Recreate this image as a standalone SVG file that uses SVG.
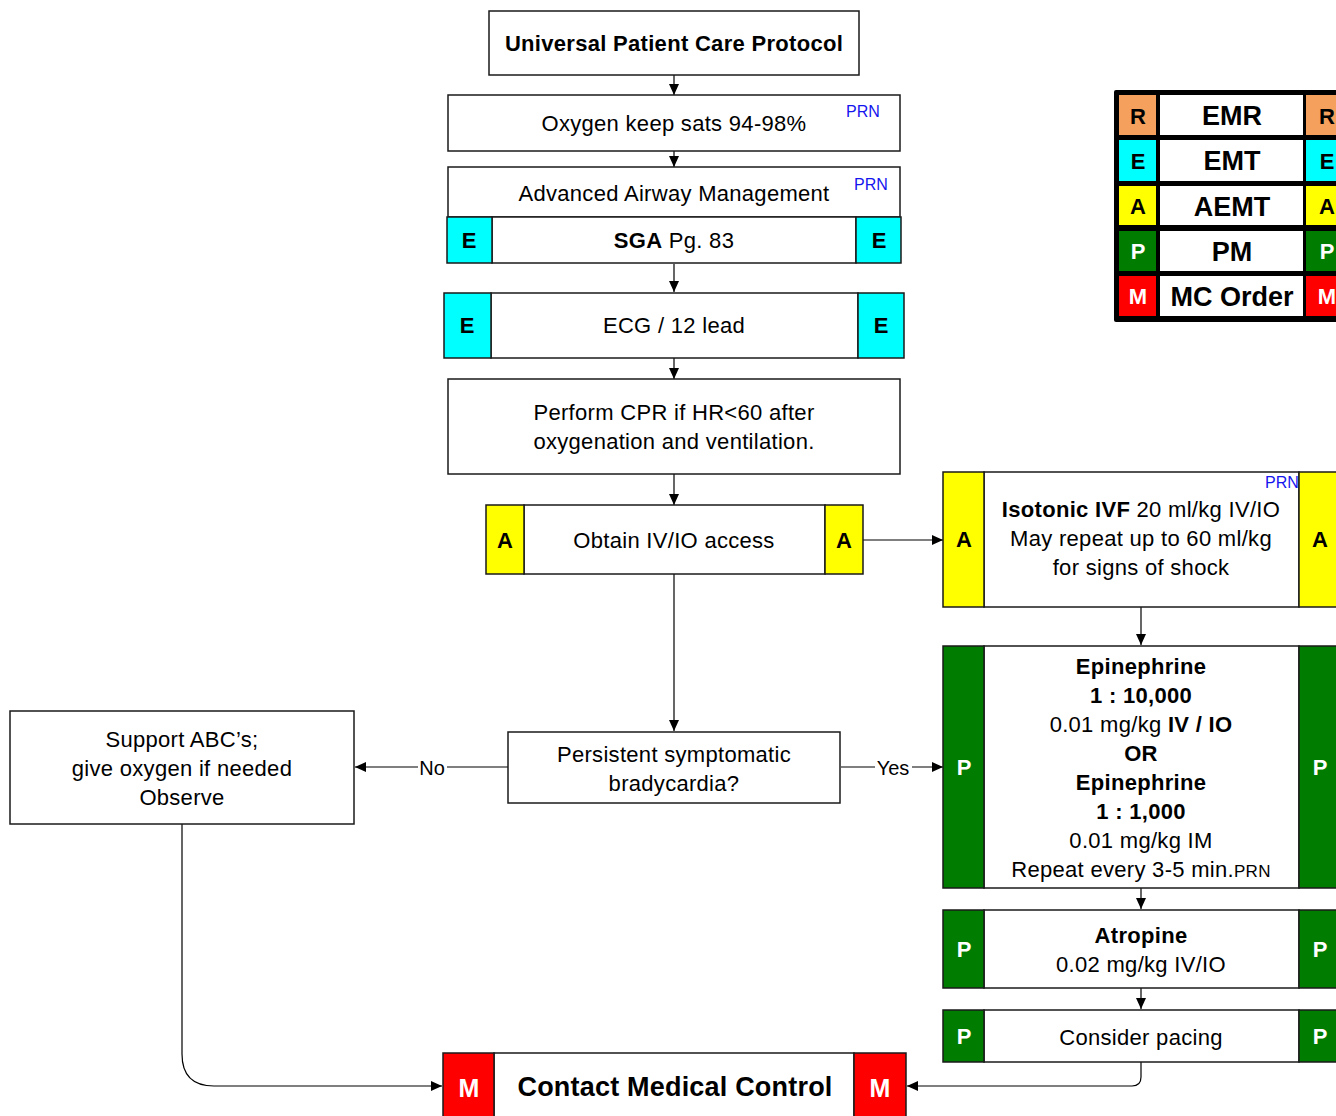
<svg xmlns="http://www.w3.org/2000/svg" width="1336" height="1116" viewBox="0 0 1336 1116">
<defs>
<marker id="arr" markerUnits="userSpaceOnUse" markerWidth="12" markerHeight="10" refX="11" refY="5" orient="auto">
<path d="M0,0 L11,5 L0,10 Z" fill="#000"/>
</marker>
<style>
text{font-family:"Liberation Sans",Arial,sans-serif;fill:#000;text-anchor:middle}
.box{fill:#fff;stroke:#1a1a1a;stroke-width:1.5}
.t{font-size:22px;letter-spacing:0.3px}
.b{font-weight:bold}
.prn{font-size:16px;fill:#1515ee;text-anchor:start}
.cE{fill:#00ffff;stroke:#1a1a1a;stroke-width:1.5}
.cA{fill:#ffff00;stroke:#1a1a1a;stroke-width:1.5}
.cP{fill:#007c00;stroke:#1a1a1a;stroke-width:1.5}
.cM{fill:#ff0000;stroke:#1a1a1a;stroke-width:1.5}
.cR{fill:#f5a05c}
.lt{font-size:22px;font-weight:bold}
.w{fill:#fff}
.con{fill:none;stroke:#000;stroke-width:1.2}
.lg{font-size:27px;font-weight:bold}
</style>
</defs>

<g id="connectors">
<path class="con" d="M674,75 V95" marker-end="url(#arr)"/>
<path class="con" d="M674,151 V167" marker-end="url(#arr)"/>
<path class="con" d="M674,264 V292" marker-end="url(#arr)"/>
<path class="con" d="M674,358 V379" marker-end="url(#arr)"/>
<path class="con" d="M674,474 V505" marker-end="url(#arr)"/>
<path class="con" d="M863,540 H943" marker-end="url(#arr)"/>
<path class="con" d="M674,574 V731" marker-end="url(#arr)"/>
<path class="con" d="M508,767 H355" marker-end="url(#arr)"/>
<path class="con" d="M841,767 H943" marker-end="url(#arr)"/>
<path class="con" d="M1141,607 V645" marker-end="url(#arr)"/>
<path class="con" d="M1141,888 V909" marker-end="url(#arr)"/>
<path class="con" d="M1141,988 V1009" marker-end="url(#arr)"/>
<path class="con" d="M1141,1062 V1077 Q1141,1086 1132,1086 H907" marker-end="url(#arr)"/>
<path class="con" d="M182,824 V1054 Q182,1086 214,1086 H442" marker-end="url(#arr)"/>
<rect x="418" y="756" width="29" height="22" fill="#fff"/>
<text x="432" y="775" style="font-size:20px">No</text>
<rect x="875" y="756" width="37" height="22" fill="#fff"/>
<text x="893" y="775" style="font-size:20px">Yes</text>
</g>

<g id="n-universal">
<rect class="box" x="489" y="11" width="370" height="64"/>
<text class="b" x="674" y="51" style="font-size:22px;letter-spacing:0.3px">Universal Patient Care Protocol</text>
</g>

<g id="n-oxygen">
<rect class="box" x="448" y="95" width="452" height="56"/>
<text class="t" x="674" y="131">Oxygen keep sats 94-98%</text>
<text class="prn" x="846" y="117">PRN</text>
</g>

<g id="n-airway">
<rect class="box" x="448" y="167" width="452" height="50"/>
<text class="t" x="674" y="201">Advanced Airway Management</text>
<text class="prn" x="854" y="190">PRN</text>
<rect class="box" x="492" y="217" width="364" height="46"/>
<rect class="cE" x="447" y="217" width="45" height="46"/>
<rect class="cE" x="856" y="217" width="45" height="46"/>
<text class="lt" x="469" y="248">E</text>
<text class="lt" x="879" y="248">E</text>
<text class="t" x="674" y="248"><tspan class="b">SGA</tspan> Pg. 83</text>
</g>

<g id="n-ecg">
<rect class="box" x="491" y="293" width="367" height="65"/>
<rect class="cE" x="444" y="293" width="47" height="65"/>
<rect class="cE" x="858" y="293" width="46" height="65"/>
<text class="lt" x="467" y="333">E</text>
<text class="lt" x="881" y="333">E</text>
<text class="t" x="674" y="333">ECG / 12 lead</text>
</g>

<g id="n-cpr">
<rect class="box" x="448" y="379" width="452" height="95"/>
<text class="t" x="674" y="420">Perform CPR if HR&lt;60 after</text>
<text class="t" x="674" y="449">oxygenation and ventilation.</text>
</g>

<g id="n-ivio">
<rect class="box" x="524" y="505" width="301" height="69"/>
<rect class="cA" x="486" y="505" width="38" height="69"/>
<rect class="cA" x="825" y="505" width="38" height="69"/>
<text class="lt" x="505" y="548">A</text>
<text class="lt" x="844" y="548">A</text>
<text class="t" x="674" y="548">Obtain IV/IO access</text>
</g>

<g id="n-support">
<rect class="box" x="10" y="711" width="344" height="113"/>
<text class="t" x="182" y="747">Support ABC’s;</text>
<text class="t" x="182" y="776">give oxygen if needed</text>
<text class="t" x="182" y="805">Observe</text>
</g>

<g id="n-persistent">
<rect class="box" x="508" y="732" width="332" height="71"/>
<text class="t" x="674" y="762">Persistent symptomatic</text>
<text class="t" x="674" y="791">bradycardia?</text>
</g>

<g id="n-ivf">
<rect class="box" x="984" y="472" width="315" height="135"/>
<rect class="cA" x="943" y="472" width="41" height="135"/>
<rect class="cA" x="1299" y="472" width="45" height="135"/>
<text class="lt" x="964" y="547">A</text>
<text class="lt" x="1320" y="547">A</text>
<text class="prn" x="1265" y="488">PRN</text>
<text class="t" x="1141" y="517"><tspan class="b">Isotonic IVF</tspan> 20 ml/kg IV/IO</text>
<text class="t" x="1141" y="546">May repeat up to 60 ml/kg</text>
<text class="t" x="1141" y="575">for signs of shock</text>
</g>

<g id="n-epi">
<rect class="box" x="984" y="646" width="315" height="242"/>
<rect class="cP" x="943" y="646" width="41" height="242"/>
<rect class="cP" x="1299" y="646" width="45" height="242"/>
<text class="lt w" x="964" y="775">P</text>
<text class="lt w" x="1320" y="775">P</text>
<text class="t b" x="1141" y="674">Epinephrine</text>
<text class="t b" x="1141" y="703">1 : 10,000</text>
<text class="t" x="1141" y="732">0.01 mg/kg <tspan class="b">IV / IO</tspan></text>
<text class="t b" x="1141" y="761">OR</text>
<text class="t b" x="1141" y="790">Epinephrine</text>
<text class="t b" x="1141" y="819">1 : 1,000</text>
<text class="t" x="1141" y="848">0.01 mg/kg IM</text>
<text class="t" x="1141" y="877">Repeat every 3-5 min.<tspan style="font-size:17px">PRN</tspan></text>
</g>

<g id="n-atropine">
<rect class="box" x="984" y="910" width="315" height="78"/>
<rect class="cP" x="943" y="910" width="41" height="78"/>
<rect class="cP" x="1299" y="910" width="45" height="78"/>
<text class="lt w" x="964" y="957">P</text>
<text class="lt w" x="1320" y="957">P</text>
<text class="t b" x="1141" y="943">Atropine</text>
<text class="t" x="1141" y="972">0.02 mg/kg IV/IO</text>
</g>

<g id="n-pacing">
<rect class="box" x="984" y="1010" width="315" height="52"/>
<rect class="cP" x="943" y="1010" width="41" height="52"/>
<rect class="cP" x="1299" y="1010" width="45" height="52"/>
<text class="lt w" x="964" y="1044">P</text>
<text class="lt w" x="1320" y="1044">P</text>
<text class="t" x="1141" y="1045">Consider pacing</text>
</g>

<g id="n-contact">
<rect class="box" x="494" y="1053" width="360" height="70"/>
<rect class="cM" x="443" y="1053" width="51" height="70"/>
<rect class="cM" x="854" y="1053" width="52" height="70"/>
<text class="w" x="469" y="1097" style="font-size:25px;font-weight:bold">M</text>
<text class="w" x="880" y="1097" style="font-size:25px;font-weight:bold">M</text>
<text x="675" y="1096" style="font-size:27px;font-weight:bold;letter-spacing:0.2px">Contact Medical Control</text>
</g>

<g id="legend">
<rect x="1114" y="90" width="230" height="232" fill="#000" rx="2"/>
<rect class="cR" x="1119" y="95" width="37" height="40"/>
<rect fill="#00ffff" x="1119" y="140" width="37" height="41"/>
<rect fill="#ffff00" x="1119" y="186" width="37" height="39"/>
<rect fill="#007c00" x="1119" y="231" width="37" height="40"/>
<rect fill="#ff0000" x="1119" y="276" width="37" height="40"/>
<rect fill="#fff" x="1160" y="95" width="143" height="40"/>
<rect fill="#fff" x="1160" y="140" width="143" height="41"/>
<rect fill="#fff" x="1160" y="186" width="143" height="39"/>
<rect fill="#fff" x="1160" y="231" width="143" height="40"/>
<rect fill="#fff" x="1160" y="276" width="143" height="40"/>
<rect class="cR" x="1306" y="95" width="40" height="40"/>
<rect fill="#00ffff" x="1306" y="140" width="40" height="41"/>
<rect fill="#ffff00" x="1306" y="186" width="40" height="39"/>
<rect fill="#007c00" x="1306" y="231" width="40" height="40"/>
<rect fill="#ff0000" x="1306" y="276" width="40" height="40"/>
<text class="lt" x="1138" y="124">R</text>
<text class="lt" x="1138" y="169">E</text>
<text class="lt" x="1138" y="214">A</text>
<text class="lt w" x="1138" y="259">P</text>
<text class="lt w" x="1138" y="304">M</text>
<text class="lt" x="1327" y="124">R</text>
<text class="lt" x="1327" y="169">E</text>
<text class="lt" x="1327" y="214">A</text>
<text class="lt w" x="1327" y="259">P</text>
<text class="lt w" x="1327" y="304">M</text>
<text class="lg" x="1232" y="125">EMR</text>
<text class="lg" x="1232" y="170">EMT</text>
<text class="lg" x="1232" y="216">AEMT</text>
<text class="lg" x="1232" y="261">PM</text>
<text class="lg" x="1232" y="306">MC Order</text>
</g>
</svg>
